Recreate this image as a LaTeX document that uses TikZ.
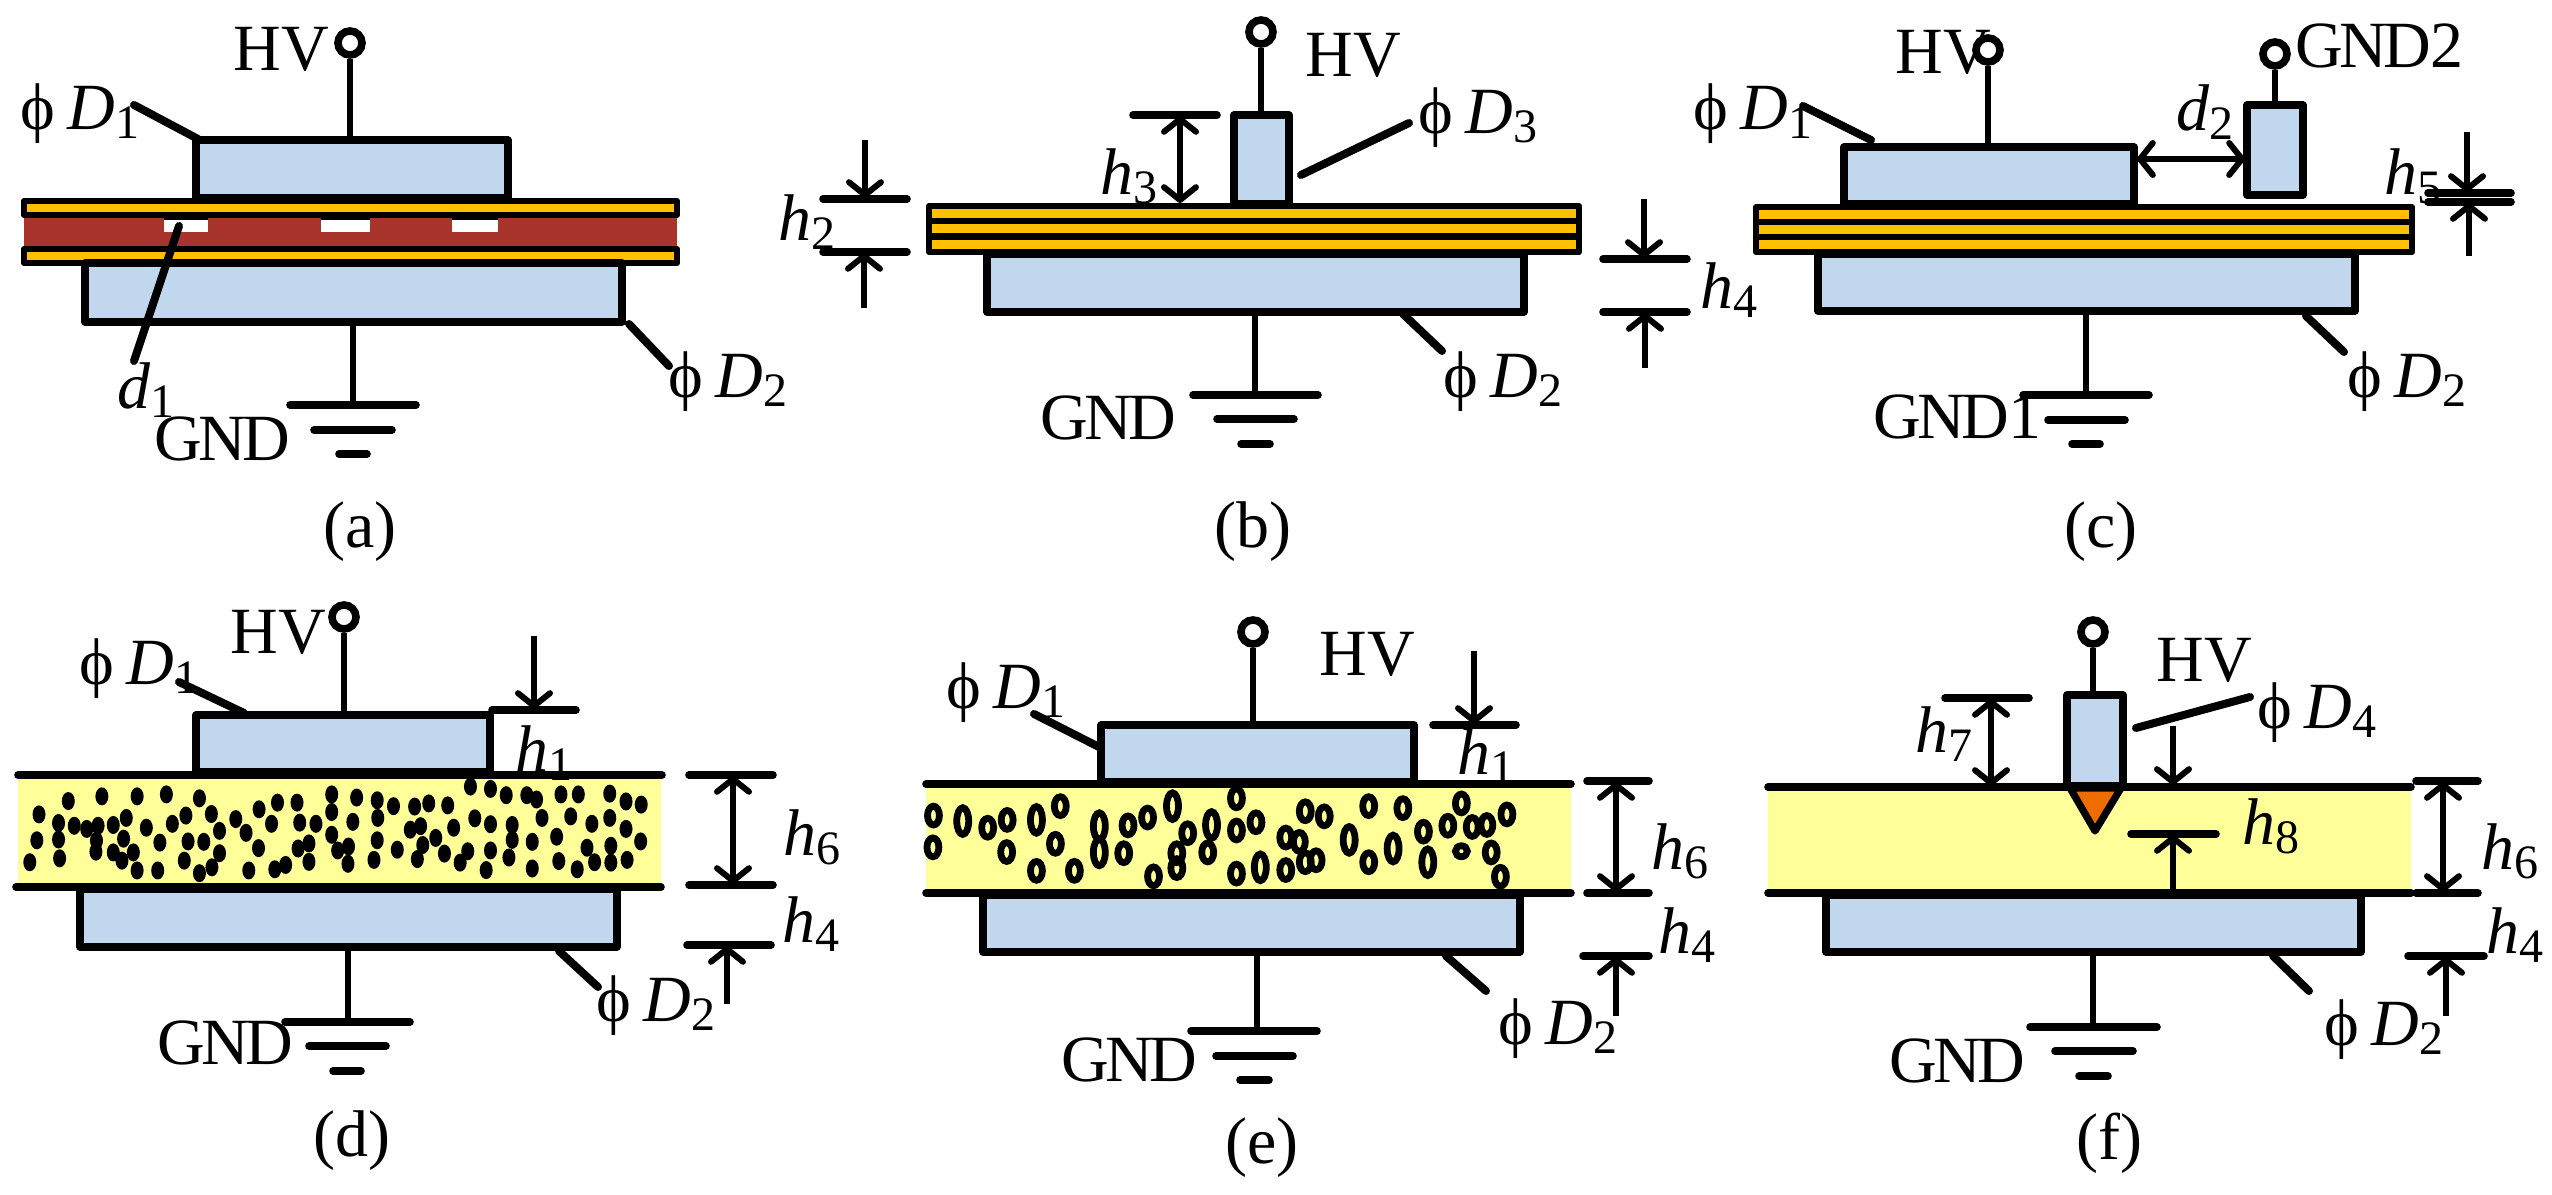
\documentclass[tikz,border=0pt]{standalone}
\usepackage{fontspec}
\setmainfont{Liberation Serif}
\usetikzlibrary{arrows.meta}
\definecolor{plateblue}{RGB}{192,215,238}
\definecolor{stripgold}{RGB}{255,192,0}
\definecolor{corebrown}{RGB}{169,52,43}
\definecolor{paleyellow}{RGB}{255,255,153}
\definecolor{tiporange}{RGB}{237,109,0}
\newcommand{\sym}[2]{\textit{#1}\raisebox{-2.2pt}{\fontsize{12}{12}\selectfont #2}}
\newcommand{\dia}[1]{\char"03D5\kern3pt\sym{D}{#1}}
\newcommand{\gnd}{G\kern-1pt N\kern-1pt D}
\tikzset{
  txt/.style={font=\fontsize{16.5}{18}\selectfont,inner sep=0pt,anchor=base west},
  subcap/.style={txt,anchor=base},
  plate/.style={draw=black,fill=plateblue,line width=1.8pt,line join=round},
  strip/.style={draw=black,fill=stripgold,line width=1.5pt,line join=round},
  sep/.style={line width=1.7pt},
  lead/.style={line width=1.7pt},
  bar/.style={line width=1.9pt,line cap=round},
  leader/.style={line width=2pt,line cap=round},
  barb/.tip={Straight Barb[length=3.2pt,width=8pt,line width=1.5pt,round]},
  dimline/.style={line width=1.4pt,-barb},
  dimboth/.style={line width=1.4pt,barb-barb},
  terminal/.style={circle,draw,line width=1.9pt,minimum size=6pt,inner sep=0pt},
}
\begin{document}
\begin{tikzpicture}[x=0.25pt,y=0.25pt,yscale=-1]
\useasboundingbox (0,0) rectangle (2552,1195);

%Panel a
\fill[corebrown] (24,216) rectangle (677,247);
\foreach \xa/\xb in {164/208,321/370,452/498}{
  \fill[white] (\xa,219) rectangle (\xb,232);
  \draw[line width=1.2pt] (\xa,218) -- (\xb,218);
}
\draw[strip] (24,201) rectangle (677,215);
\draw[strip] (24,249) rectangle (677,263);
\draw[plate] (196,140) rectangle (508,198);
\draw[plate] (85,263) rectangle (622,322);
\node[terminal] (ta) at (350,43) {};
\coordinate (pa) at (350,140);
\draw[lead] (ta) -- (pa);
\coordinate (qa) at (353,322);
\coordinate (ga) at (353,405);
\draw[lead] (qa) -- (ga);
\draw[bar] (290,405) -- (416,405);
\draw[bar] (314,430) -- (392,430);
\draw[bar] (339,454) -- (367,454);
\draw[leader] (134,105) -- (198,139);
\draw[leader] (179,226) -- (134,361);
\draw[leader] (629,324) -- (669,366);
\node[txt] (HVa) at (233,71) {HV};
\node[txt] (GNDa) at (154,461) {\gnd};
\node[txt] (D1a) at (20,130) {\dia{1}};
\node[txt] (D2a) at (668,398) {\dia{2}};
\node[txt] (d1a) at (117,409) {\sym{d}{1}};
\node[subcap] (capa) at (360,548) {(a)};

%Panel b
\draw[strip] (929,206) rectangle (1579,252);
\draw[sep] (929,221) -- (1579,221);
\draw[sep] (929,236.5) -- (1579,236.5);
\draw[plate] (1234,115) rectangle (1289,204);
\draw[plate] (987,254) rectangle (1524,312);
\node[terminal] (tb) at (1261,32) {};
\coordinate (pb) at (1261,115);
\draw[lead] (tb) -- (pb);
\coordinate (qb) at (1255,312);
\coordinate (gb) at (1255,395);
\draw[lead] (qb) -- (gb);
\draw[bar] (1193,395) -- (1318,395);
\draw[bar] (1217,419) -- (1294,419);
\draw[bar] (1241,444) -- (1270,444);
\draw[leader] (1301,175) -- (1409,123);
\draw[leader] (1403,314) -- (1442,351);
% dimensions h2 h3 h4
\draw[bar] (1133,115) -- (1217,115);
\draw[dimboth] (1180,116) -- (1180,203);
\draw[bar] (823,199) -- (907,199);
\draw[bar] (823,252) -- (907,252);
\draw[dimline] (865,140) -- (865,198);
\draw[dimline] (864,308) -- (864,253);
\draw[bar] (1603,259) -- (1687,259);
\draw[bar] (1603,312) -- (1687,312);
\draw[dimline] (1644,199) -- (1644,258);
\draw[dimline] (1645,368) -- (1645,313);
\node[txt] (HVb) at (1305,77) {HV};
\node[txt] (GNDb) at (1040,440) {\gnd};
\node[txt] (D3b) at (1418,134) {\dia{3}};
\node[txt] (D2b) at (1443,398) {\dia{2}};
\node[txt] (h2b) at (778,241) {\sym{h}{2}};
\node[txt] (h3b) at (1100,195) {\sym{h}{3}};
\node[txt] (h4b) at (1700,309) {\sym{h}{4}};
\node[subcap] (capb) at (1253,548) {(b)};

%Panel c
\draw[strip] (1756,207) rectangle (2412,252);
\draw[sep] (1756,222) -- (2412,222);
\draw[sep] (1756,237) -- (2412,237);
\draw[plate] (1844,147) rectangle (2134,204);
\draw[plate] (2247,105) rectangle (2303,195);
\draw[plate] (1818,254) rectangle (2355,311);
\node[terminal] (tc) at (1988,50) {};
\coordinate (pc) at (1988,147);
\draw[lead] (tc) -- (pc);
\node[terminal] (td) at (2275,54) {};
\coordinate (pd) at (2275,105);
\draw[lead] (td) -- (pd);
\coordinate (qc) at (2086,311);
\coordinate (gc) at (2086,395);
\draw[lead] (qc) -- (gc);
\draw[bar] (2023,395) -- (2149,395);
\draw[bar] (2048,420) -- (2125,420);
\draw[bar] (2072,444) -- (2100,444);
\draw[leader] (1803,106) -- (1871,140);
\draw[leader] (2306,316) -- (2344,352);
% dimensions d2 h5
\draw[dimboth] (2137,159) -- (2245,159);
\draw[bar] (2428,193) -- (2511,193);
\draw[bar] (2428,202) -- (2511,202);
\draw[dimline] (2467,132) -- (2467,192);
\draw[dimline] (2469,256) -- (2469,203);
\node[txt] (HVc) at (1895,74) {HV};
\node[txt] (GND2c) at (2295,68) {\gnd 2};
\node[txt] (GND1c) at (1873,439) {\gnd 1};
\node[txt] (D1c) at (1693,130) {\dia{1}};
\node[txt] (D2c) at (2347,398) {\dia{2}};
\node[txt] (d2c) at (2176,131) {\sym{d}{2}};
\node[txt] (h5c) at (2384,195) {\sym{h}{5}};
\node[subcap] (capc) at (2101,548) {(c)};

%Panel d
\fill[paleyellow] (18,775) rectangle (661,887);
\begin{scope}[shift={(0,580)},xscale=.542,yscale=.392]
\foreach \x/\y in {72/598,55/720,68/664,110/710,108/662,108/620,126/564,137/627,160/635,181/627,178/665,177/693,188/552,209/625,209/695,225/716,228/660,233/607,246/695,253/552,253/741,270/632,291/741,295/670,307/547,318/622,343/601,340/716,347/667,368/557,376/668,368/748,391/733,405/697,405/640,390/597,435/610,454/645,478/585,477/684,459/741,507/738,527/727,501/622,512/568,548/568,553/619,550/685,570/672,570/719,583/622,612/547,612/592,612/650,623/690,643/680,642/724,651/617,658/555,696/562,697/607,696/664,690/714,726/577,733/688,765/578,791/570,826/575,757/637,776/628,770/712,780/676,804/658,820/698,837/632,849/721,863/692,868/527,876/608,905/533,905/623,905/690,897/740,934/549,945/625,945/663,939/708,972/549,990/560,982/668,982/736,1000/607,1027/655,1031/717,1035/547,1067/547,1053/603,1092/622,1083/683,1097/720,1065/738,1125/545,1125/607,1127/678,1127/721,1155/565,1183/573,1155/635,1182/667,1157/714}
  \fill (\x,\y) ellipse [x radius=12, y radius=23];
\end{scope}
\draw[bar] (18,775) -- (662,775);
\draw[bar] (16,887) -- (661,887);
\draw[plate] (196,715) rectangle (490,772);
\draw[plate] (80,889) rectangle (617,947);
\node[terminal] (te) at (344,617) {};
\coordinate (pe) at (344,715);
\draw[lead] (te) -- (pe);
\coordinate (qe) at (348,947);
\coordinate (ge) at (348,1022);
\draw[lead] (qe) -- (ge);
\draw[bar] (285,1022) -- (410,1022);
\draw[bar] (309,1046) -- (386,1046);
\draw[bar] (333,1071) -- (361,1071);
\draw[leader] (179,682) -- (244,713);
\draw[leader] (559,951) -- (598,987);
% dimensions h1 h6 h4
\draw[bar] (492,710) -- (576,710);
\draw[dimline] (534,636) -- (534,709);
\draw[bar] (689,775) -- (773,775);
\draw[bar] (689,885) -- (773,885);
\draw[dimboth] (733,776) -- (733,884);
\draw[bar] (687,945) -- (771,945);
\draw[dimline] (727,1004) -- (727,946);
\node[txt] (HVe) at (230,654) {HV};
\node[txt] (GNDe) at (157,1065) {\gnd};
\node[txt] (D1e) at (79,685) {\dia{1}};
\node[txt] (D2e) at (596,1022) {\dia{2}};
\node[txt] (h1e) at (515,772) {\sym{h}{1}};
\node[txt] (h6e) at (783,856) {\sym{h}{6}};
\node[txt] (h4e) at (782,943) {\sym{h}{4}};
\node[subcap] (cape) at (352,1157) {(d)};

%Panel e
\fill[paleyellow] (926,784) rectangle (1571,893);
\begin{scope}[shift={(850,580)},xscale=.542,yscale=.392,line width=1.7pt]
\foreach \x/\y in {154/601,153/682,254/632,290/612,289/694,344/742,388/577,379/673,414/742,505/697,513/626,549/606,560/756,623/646,603/697,603/735,660/695,713/557,713/639,749/618,713/749,804/740,804/657,829/668,840/590,875/603,840/720,860/715,957/577,957/720,1020/582,1058/642,1103/627,1128/570,1148/630,1175/625,1212/598,1183/695,1200/757}
  \draw (\x,\y) ellipse [x radius=11, y radius=24];
\foreach \x/\y in {208/615,344/612,460/628,460/695,595/577,667/625,757/733,921/663,1002/685,1066/720}
  \draw (\x,\y) ellipse [x radius=11, y radius=34];
\draw (1128,692) ellipse [x radius=11, y radius=14];
\end{scope}
\draw[bar] (926,784) -- (1571,784);
\draw[bar] (926,893) -- (1571,893);
\draw[plate] (1101,725) rectangle (1414,782);
\draw[plate] (983,895) rectangle (1520,952);
\node[terminal] (tf) at (1253,632) {};
\coordinate (pf) at (1253,725);
\draw[lead] (tf) -- (pf);
\coordinate (qf) at (1257,952);
\coordinate (gf) at (1257,1031);
\draw[lead] (qf) -- (gf);
\draw[bar] (1191,1031) -- (1317,1031);
\draw[bar] (1216,1056) -- (1293,1056);
\draw[bar] (1240,1080) -- (1269,1080);
\draw[leader] (1034,714) -- (1099,747);
\draw[leader] (1446,956) -- (1486,991);
% dimensions h1 h6 h4
\draw[bar] (1433,725) -- (1516,725);
\draw[dimline] (1474,651) -- (1474,724);
\draw[bar] (1587,781) -- (1649,781);
\draw[bar] (1587,893) -- (1649,893);
\draw[dimboth] (1616,782) -- (1616,892);
\draw[bar] (1583,956) -- (1649,956);
\draw[dimline] (1616,1016) -- (1616,957);
\node[txt] (HVf) at (1319,676) {HV};
\node[txt] (GNDf) at (1061,1082) {\gnd};
\node[txt] (D1f) at (946,709) {\dia{1}};
\node[txt] (D2f) at (1498,1045) {\dia{2}};
\node[txt] (h1f) at (1457,775) {\sym{h}{1}};
\node[txt] (h6f) at (1651,870) {\sym{h}{6}};
\node[txt] (h4f) at (1658,954) {\sym{h}{4}};
\node[subcap] (capf) at (1262,1164) {(e)};

%Panel f
\fill[paleyellow] (1768,787) rectangle (2411,893);
\draw[bar] (1768,787) -- (2411,787);
\draw[bar] (1768,893) -- (2411,893);
\draw[plate] (2067,695) rectangle (2123,786);
\draw[line width=1.8pt,line join=round,fill=tiporange] (2070,788) -- (2121,788) -- (2095,831) -- cycle;
\draw[plate] (1826,895) rectangle (2361,952);
\node[terminal] (tg) at (2093,632) {};
\coordinate (pg) at (2093,695);
\draw[lead] (tg) -- (pg);
\coordinate (qg) at (2093,952);
\coordinate (gg) at (2093,1027);
\draw[lead] (qg) -- (gg);
\draw[bar] (2030,1027) -- (2157,1027);
\draw[bar] (2055,1051) -- (2133,1051);
\draw[bar] (2079,1076) -- (2108,1076);
\draw[leader] (2136,728) -- (2250,697);
\draw[leader] (2273,956) -- (2309,991);
% dimensions h7 h8 h6 h4
\draw[bar] (1945,698) -- (2029,698);
\draw[dimboth] (1991,699) -- (1991,786);
\draw[dimline] (2173,726) -- (2173,785);
\draw[bar] (2131,834) -- (2216,834);
\draw[dimline] (2173,892) -- (2173,835);
\draw[bar] (2416,781) -- (2478,781);
\draw[bar] (2416,893) -- (2478,893);
\draw[dimboth] (2443,782) -- (2443,892);
\draw[bar] (2408,956) -- (2484,956);
\draw[dimline] (2446,1016) -- (2446,957);
\node[txt] (HVg) at (2156,682) {HV};
\node[txt] (GNDg) at (1889,1083) {\gnd};
\node[txt] (D4g) at (2257,729) {\dia{4}};
\node[txt] (D2g) at (2324,1046) {\dia{2}};
\node[txt] (h7g) at (1915,753) {\sym{h}{7}};
\node[txt] (h8g) at (2242,845) {\sym{h}{8}};
\node[txt] (h6g) at (2481,870) {\sym{h}{6}};
\node[txt] (h4g) at (2486,954) {\sym{h}{4}};
\node[subcap] (capg) at (2109,1160) {(f)};
\end{tikzpicture}
\end{document}
